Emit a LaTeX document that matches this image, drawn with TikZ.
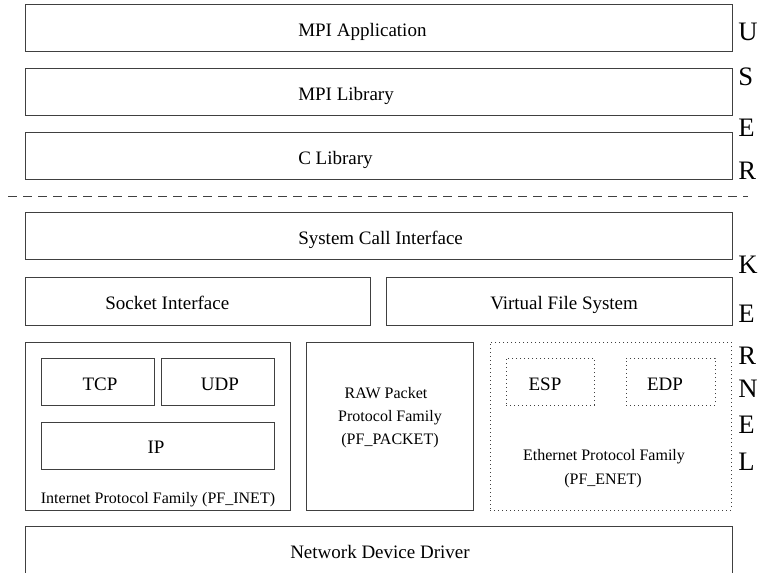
\documentclass[tikz,border=0pt]{standalone}
\usepackage{fontspec}
\setmainfont{Liberation Serif}
\usetikzlibrary{fit}
\begin{document}
\begin{tikzpicture}[x=0.75pt,y=-0.75pt,
  box/.style={draw=black!75, line width=0.75pt, inner sep=0pt},
  dbox/.style={box, dash pattern=on 0.75pt off 2.25pt},
  bigw/.style={font=\fontsize{14.25}{16}\selectfont, inner sep=0pt, anchor=base west},
  bigc/.style={font=\fontsize{14.25}{16}\selectfont, inner sep=0pt, anchor=base},
  smallc/.style={font=\fontsize{12}{14}\selectfont, inner sep=0pt, anchor=base},
  side/.style={font=\fontsize{20}{22}\selectfont, inner sep=0pt, anchor=base west},
  sepline/.style={draw=black!75, line width=0.75pt, dash pattern=on 6.75pt off 4.5pt}]
\clip (0,0) rectangle (759,573);
\fill[white] (0,0) rectangle (759,573);
% user space
\node[box, fit={(25,5)(732,52)}] (app) {};
\node[box, fit={(25,69)(732,116)}] (mlib) {};
\node[box, fit={(25,133)(732,180)}] (clib) {};
\node[bigw] (appT) at (298,37) {MPI Application};
\node[bigw] (mlibT) at (298,101) {MPI Library};
\node[bigw] (clibT) at (298,165) {C Library};
% separator
\coordinate (sl) at (8,197);
\coordinate (sr) at (748,197);
\draw[sepline] (sl) -- (sr);
% kernel
\node[box, fit={(25,213)(732,260)}] (sci) {};
\node[bigw] (sciT) at (298,245) {System Call Interface};
\node[box, fit={(25,278)(370,325)}] (sock) {};
\node[bigw] (sockT) at (105,310) {Socket Interface};
\node[box, fit={(386,278)(732,325)}] (vfs) {};
\node[bigw] (vfsT) at (490,310) {Virtual File System};
% internet family
\node[box, fit={(25,342)(290,510)}] (inet) {};
\node[box, fit={(41,358)(154,405)}] (tcp) {};
\node[box, fit={(161,358)(274,405)}] (udp) {};
\node[box, fit={(41,422)(274,469)}] (ip) {};
\node[bigc] (tcpT) at (100,390) {TCP};
\node[bigc] (udpT) at (220,390) {UDP};
\node[bigc] (ipT) at (156,453) {IP};
\node[smallc] (inetT) at (158,503) {Internet Protocol Family (PF\_INET)};
% raw packet family
\node[box, fit={(306,342)(473,510)}] (raw) {};
\node[smallc] (rawT1) at (386,398) {RAW Packet};
\node[smallc] (rawT2) at (390,421) {Protocol Family};
\node[smallc] (rawT3) at (390,444) {(PF\_PACKET)};
% ethernet family
\node[dbox, fit={(490,342)(731,510)}] (enet) {};
\node[dbox, fit={(506,358)(594,405)}] (esp) {};
\node[dbox, fit={(626,358)(715,405)}] (edp) {};
\node[bigc] (espT) at (545,390) {ESP};
\node[bigc] (edpT) at (665,390) {EDP};
\node[smallc] (enetT1) at (604,460) {Ethernet Protocol Family};
\node[smallc] (enetT2) at (603,484) {(PF\_ENET)};
% device driver
\node[box, fit={(25,526)(732,600)}] (ndd) {};
\node[bigw] (nddT) at (290,558) {Network Device Driver};
% side letters
\node[side] (u1) at (738,41) {U};
\node[side] (u2) at (738,86) {S};
\node[side] (u3) at (738,137) {E};
\node[side] (u4) at (738,180) {R};
\node[side] (k1) at (738,274) {K};
\node[side] (k2) at (738,322) {E};
\node[side] (k3) at (738,364) {R};
\node[side] (k4) at (738,397) {N};
\node[side] (k5) at (738,433) {E};
\node[side] (k6) at (738,470) {L};
\end{tikzpicture}
\end{document}
